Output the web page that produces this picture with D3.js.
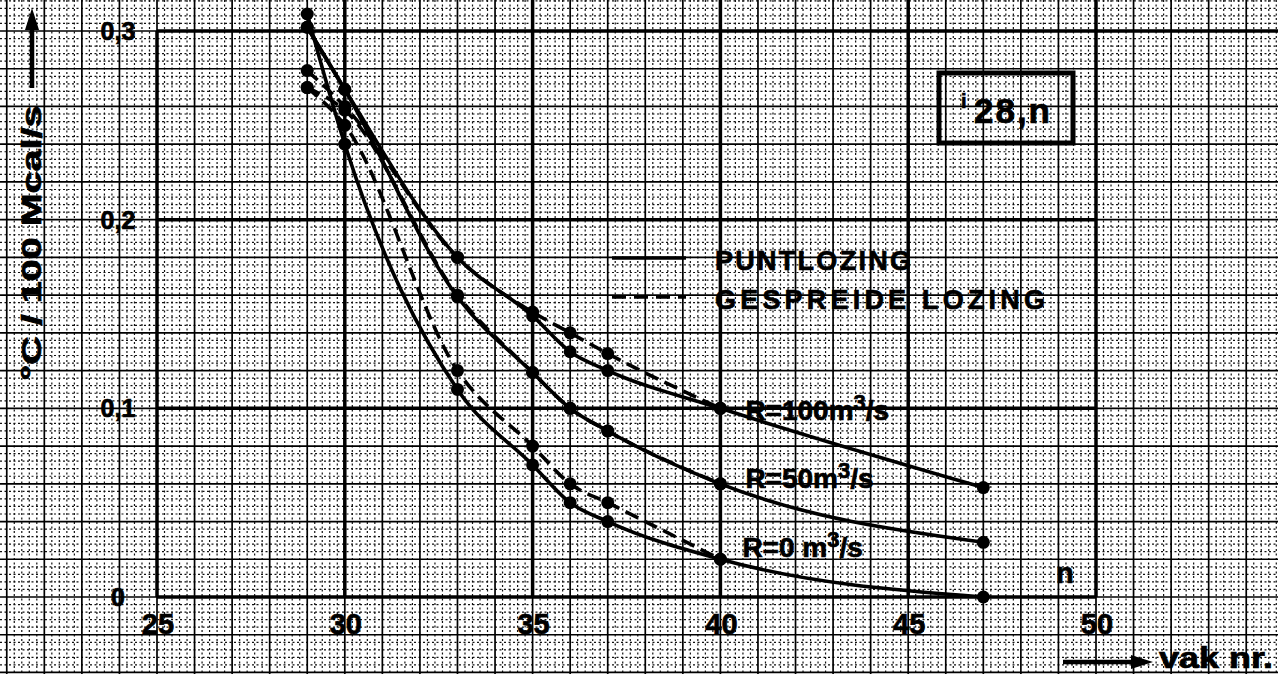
<!DOCTYPE html>
<html>
<head>
<meta charset="utf-8">
<script src="https://cdn.jsdelivr.net/npm/d3@7/dist/d3.min.js"></script>
<style>
  html, body { margin: 0; padding: 0; background: #fff; }
  svg { display: block; }
  text { font-family: "Liberation Sans", Arial, sans-serif; font-weight: bold; fill: #000;
         stroke: #000; stroke-width: 0.7px; }
</style>
</head>
<body>
<svg id="chart" width="1278" height="674"></svg>
<script>
// Sections (vak nr.) where the temperature rise was computed
const vak = [29, 30, 33, 35, 36, 37, 40, 47];
const vakGespreid = [29, 30, 33, 35, 36, 37, 40];

// Point discharge (puntlozing), °C per 100 Mcal/s
const punt100 = [0.302, 0.269, 0.180, 0.149, 0.130, 0.120, 0.100, 0.058];
const punt50  = [0.302, 0.269, 0.159, 0.119, 0.100, 0.088, 0.060, 0.029];
const punt0   = [0.309, 0.240, 0.110, 0.070, 0.050, 0.040, 0.020, 0.000];

// Spread discharge (gespreide lozing)
const spreid100 = [0.279, 0.260, 0.180, 0.151, 0.140, 0.129, 0.100];
const spreid50  = [0.270, 0.258, 0.160, 0.119, 0.100, 0.088, 0.060];
const spreid0   = [0.270, 0.250, 0.120, 0.080, 0.060, 0.050, 0.020];

// Axis ticks
const xTicks = [25, 30, 35, 40, 45, 50];
const yTicks = [0, 0.1, 0.2, 0.3];

// Curve and legend texts
const curveLabels = [
  { pre: "R=100m", value: 0.100, dx: 25, dy: 12, width: 145 },
  { pre: "R=50m",  value: 0.060, dx: 25, dy: 4, width: 127 },
  { pre: "R=0 m",  value: 0.020, dx: 22, dy: -2, width: 126 }
];
const legendItems = [
  { text: "PUNTLOZING", dash: null, width: 196 },
  { text: "GESPREIDE LOZING", dash: "14,8", width: 330 }
];

const W = 1278, H = 674;
const svg = d3.select("#chart");

const x = d3.scaleLinear().domain([25, 50]).range([157, 1096]);
const y = d3.scaleLinear().domain([0, 0.3]).range([597, 31]);

// ---- millimetre paper over the whole sheet ----
const paper = svg.append("g");
const xk0 = Math.ceil(x.invert(0) * 5), xk1 = Math.floor(x.invert(W) * 5);
const yk0 = Math.ceil(y.invert(H) * 250), yk1 = Math.floor(y.invert(0) * 250);

// fine (dotted) lines
paper.append("g")
  .attr("stroke", "#111").attr("stroke-width", 1.2).attr("stroke-dasharray", "2,2.5")
  .call(g => {
    d3.range(xk0, xk1 + 1).filter(k => k % 5 !== 0).forEach(k => {
      const px = x(k / 5);
      g.append("line").attr("x1", px).attr("x2", px).attr("y1", 0).attr("y2", H);
    });
    d3.range(yk0, yk1 + 1).filter(k => k % 5 !== 0).forEach(k => {
      const py = y(k / 250);
      g.append("line").attr("y1", py).attr("y2", py).attr("x1", 0).attr("x2", W);
    });
  });

// centimetre lines
paper.append("g")
  .attr("stroke", "#000").attr("stroke-width", 1.7)
  .call(g => {
    d3.range(xk0, xk1 + 1).filter(k => k % 5 === 0).forEach(k => {
      const px = x(k / 5);
      g.append("line").attr("x1", px).attr("x2", px).attr("y1", 0).attr("y2", H);
    });
    d3.range(yk0, yk1 + 1).filter(k => k % 5 === 0).forEach(k => {
      const py = y(k / 250);
      g.append("line").attr("y1", py).attr("y2", py).attr("x1", 0).attr("x2", W);
    });
  });

// ---- plot frame and main grid ----
const frame = svg.append("g").attr("stroke", "#000").attr("stroke-width", 3.5).attr("fill", "none");
xTicks.forEach(v => {
  frame.append("line")
    .attr("x1", x(v)).attr("x2", x(v))
    .attr("y1", v === 25 ? y(0.3) : 0).attr("y2", y(0));
});
yTicks.forEach(v => {
  frame.append("line")
    .attr("y1", y(v)).attr("y2", y(v))
    .attr("x1", x(25)).attr("x2", v === 0.3 ? W : x(50));
});

// ---- tick labels ----
const comma = d3.formatLocale({ decimal: ",", thousands: ".", grouping: [3], currency: ["", ""] }).format(".1f");
svg.append("g").selectAll("text").data(yTicks).join("text")
  .attr("x", 118).attr("y", d => y(d) + 9)
  .attr("text-anchor", "middle").attr("font-size", 25)
  .text(d => d === 0 ? "0" : comma(d));

svg.append("g").selectAll("text").data(xTicks).join("text")
  .attr("x", d => x(d) + 1).attr("y", 634)
  .attr("text-anchor", "middle").attr("font-size", 29)
  .text(d => d);

// ---- curves ----
const series = [
  { xs: vak, ys: punt100, dash: null },
  { xs: vak, ys: punt50, dash: null },
  { xs: vak, ys: punt0, dash: null },
  { xs: vakGespreid, ys: spreid100, dash: "14,7" },
  { xs: vakGespreid, ys: spreid50, dash: "14,7" },
  { xs: vakGespreid, ys: spreid0, dash: "14,7" }
];
const line = d3.line().x(d => x(d[0])).y(d => y(d[1])).curve(d3.curveMonotoneX);
const curves = svg.append("g").attr("fill", "none").attr("stroke", "#000")
  .attr("stroke-width", 3.6).attr("stroke-linecap", "butt");
series.forEach(s => {
  const pts = s.xs.map((v, i) => [v, s.ys[i]]);
  curves.append("path").attr("d", line(pts)).attr("stroke-dasharray", s.dash);
});
const dots = svg.append("g").attr("fill", "#000");
series.forEach(s => {
  s.xs.forEach((v, i) => {
    dots.append("circle").attr("cx", x(v)).attr("cy", y(s.ys[i])).attr("r", 6.5);
  });
});

// ---- curve labels ----
curveLabels.forEach(l => {
  const t = svg.append("text")
    .attr("x", x(40) + l.dx).attr("y", y(l.value) + l.dy)
    .attr("font-size", 28);
  t.append("tspan").text(l.pre);
  t.append("tspan").attr("dy", -10).attr("font-size", 22).text("3");
  t.append("tspan").attr("dy", 10).text("/s");
});

// ---- legend ----
legendItems.forEach((d, i) => {
  const ly = 258 + i * 39;
  svg.append("line").attr("x1", 612).attr("x2", 686).attr("y1", ly).attr("y2", ly)
    .attr("stroke", "#000").attr("stroke-width", 3.6).attr("stroke-dasharray", d.dash);
  svg.append("text").attr("x", 715).attr("y", ly + 12)
    .attr("font-size", 27).attr("textLength", d.width).attr("lengthAdjust", "spacing")
    .text(d.text);
});

// ---- identifier box ----
svg.append("rect").attr("x", 939).attr("y", 73).attr("width", 134).attr("height", 70)
  .attr("fill", "none").attr("stroke", "#000").attr("stroke-width", 5);
svg.append("text").attr("x", 961).attr("y", 108).attr("font-size", 20).text("i");
svg.append("text").attr("x", 974).attr("y", 123).attr("font-size", 35)
  .attr("textLength", 76).attr("lengthAdjust", "spacing").text("28,n");

// "n" near the horizontal axis
svg.append("text").attr("x", 1056).attr("y", 583).attr("font-size", 29).text("n");

// ---- axis titles with arrows ----
svg.append("text")
  .attr("transform", "translate(41,243) rotate(-90)")
  .attr("text-anchor", "middle").attr("font-size", 27)
  .attr("textLength", 275).attr("lengthAdjust", "spacingAndGlyphs")
  .text("°C / 100 Mcal/s");
svg.append("line").attr("x1", 32).attr("x2", 32).attr("y1", 88).attr("y2", 24)
  .attr("stroke", "#000").attr("stroke-width", 4.5);
svg.append("path").attr("d", "M32,8 L25,30 L39,30 Z").attr("fill", "#000");

svg.append("line").attr("x1", 1063).attr("x2", 1136).attr("y1", 662).attr("y2", 662)
  .attr("stroke", "#000").attr("stroke-width", 4.5);
svg.append("path").attr("d", "M1153,662 L1131,655 L1131,669 Z").attr("fill", "#000");
svg.append("text").attr("x", 1159).attr("y", 668).attr("font-size", 29)
  .attr("textLength", 114).attr("lengthAdjust", "spacingAndGlyphs").text("vak nr.");
</script>
</body>
</html>
